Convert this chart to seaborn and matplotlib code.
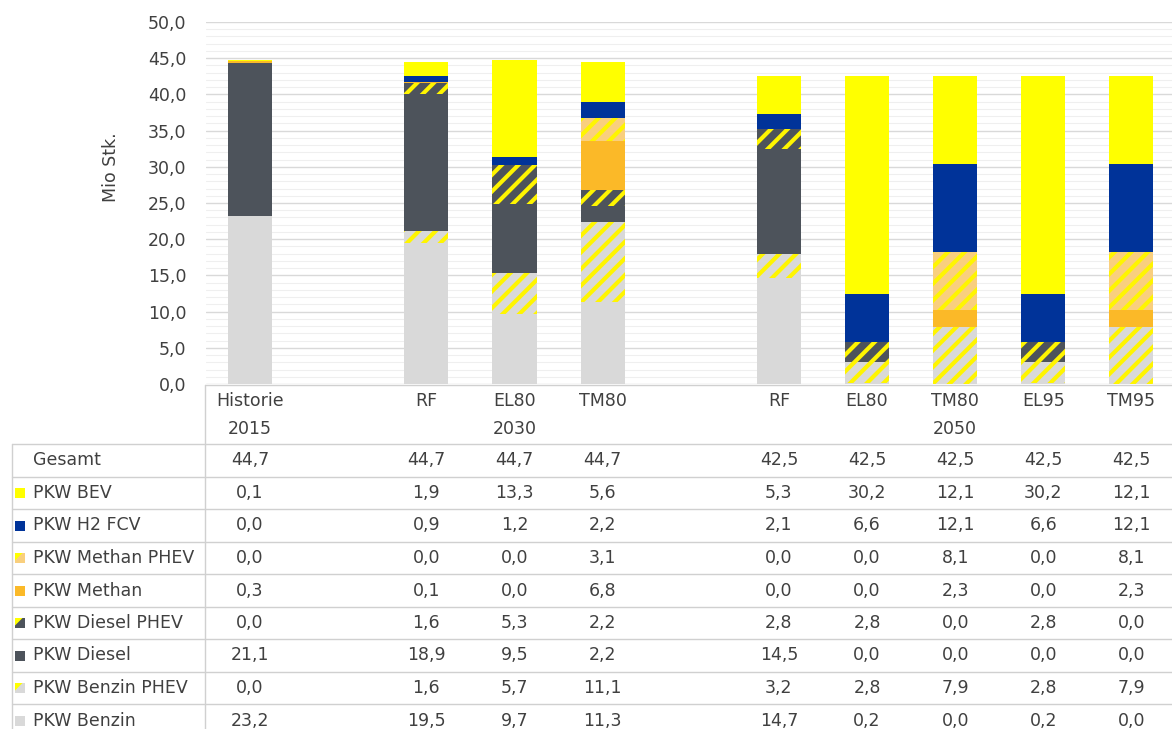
import numpy as np
import pandas as pd
import matplotlib
matplotlib.use("Agg")
import matplotlib.pyplot as plt
import seaborn as sns
from matplotlib.transforms import blended_transform_factory
from matplotlib.patches import Polygon, Rectangle
from matplotlib.lines import Line2D
from matplotlib.ticker import MultipleLocator, FuncFormatter

# ---- data -------------------------------------------------------------
scenarios = ["Historie", "RF", "EL80", "TM80", "RF", "EL80", "TM80", "EL95", "TM95"]
years = ["2015", "", "2030", "", "", "", "2050", "", ""]
# slot index of every scenario on the x axis (gaps separate the years)
slot_pos = [0, 2, 3, 4, 6, 7, 8, 9, 10]
n_slots = 11

gesamt = [44.7, 44.7, 44.7, 44.7, 42.5, 42.5, 42.5, 42.5, 42.5]
pkw_bev = [0.1, 1.9, 13.3, 5.6, 5.3, 30.2, 12.1, 30.2, 12.1]
pkw_h2_fcv = [0.0, 0.9, 1.2, 2.2, 2.1, 6.6, 12.1, 6.6, 12.1]
pkw_methan_phev = [0.0, 0.0, 0.0, 3.1, 0.0, 0.0, 8.1, 0.0, 8.1]
pkw_methan = [0.3, 0.1, 0.0, 6.8, 0.0, 0.0, 2.3, 0.0, 2.3]
pkw_diesel_phev = [0.0, 1.6, 5.3, 2.2, 2.8, 2.8, 0.0, 2.8, 0.0]
pkw_diesel = [21.1, 18.9, 9.5, 2.2, 14.5, 0.0, 0.0, 0.0, 0.0]
pkw_benzin_phev = [0.0, 1.6, 5.7, 11.1, 3.2, 2.8, 7.9, 2.8, 7.9]
pkw_benzin = [23.2, 19.5, 9.7, 11.3, 14.7, 0.2, 0.0, 0.2, 0.0]

series_names = ["PKW BEV", "PKW H2 FCV", "PKW Methan PHEV", "PKW Methan",
                "PKW Diesel PHEV", "PKW Diesel", "PKW Benzin PHEV", "PKW Benzin"]
series_values = [pkw_bev, pkw_h2_fcv, pkw_methan_phev, pkw_methan,
                 pkw_diesel_phev, pkw_diesel, pkw_benzin_phev, pkw_benzin]

# ---- styles -----------------------------------------------------------
YELLOW = "#FFFF00"
STRIPE = "#FFF500"
styles = {
    "PKW BEV":         dict(color=YELLOW, hatch=None),
    "PKW H2 FCV":      dict(color="#003399", hatch=None),
    "PKW Methan PHEV": dict(color="#F9CF7E", hatch="//"),
    "PKW Methan":      dict(color="#FBB928", hatch=None),
    "PKW Diesel PHEV": dict(color="#4D535B", hatch="//"),
    "PKW Diesel":      dict(color="#4D535B", hatch=None),
    "PKW Benzin PHEV": dict(color="#D9D9D9", hatch="//"),
    "PKW Benzin":      dict(color="#D9D9D9", hatch=None),
}

TEXT = "#404040"
W, H = 1172, 729

sns.set_theme(style="white")
plt.rcParams["font.family"] = ["DejaVu Sans"]
plt.rcParams["hatch.linewidth"] = 3.0

fig = plt.figure(figsize=(W / 100, H / 100), dpi=100)
ax = fig.add_axes([206 / W, 1 - 384 / H, 966 / W, 362 / H])

slot_keys = [f"s{i}" for i in range(n_slots)]
keys = [slot_keys[p] for p in slot_pos]

# cumulative tops, bottom series stacked first
bottom_up = list(zip(series_names, series_values))[::-1]
cum = np.zeros(len(scenarios))
rows = []
for name, vals in bottom_up:
    cum = cum + np.array(vals)
    for k, c in zip(keys, cum):
        rows.append(dict(slot=k, series=name, top=c))
df = pd.DataFrame(rows)

# draw from the top series down so each lower segment covers the rest
for name in series_names:
    st = styles[name]
    kw = dict(linewidth=0)
    if st["hatch"]:
        kw.update(hatch=st["hatch"], edgecolor=STRIPE)
    else:
        kw.update(edgecolor=st["color"])
    sns.barplot(data=df[df.series == name], x="slot", y="top", order=slot_keys,
                color=st["color"], saturation=1, width=0.5, errorbar=None,
                ax=ax, **kw)

ax.set_xlim(-0.5, 10.46)
ax.set_ylim(0, 50)
ax.yaxis.set_major_locator(MultipleLocator(5))
ax.yaxis.set_minor_locator(MultipleLocator(1))
ax.yaxis.set_major_formatter(FuncFormatter(lambda v, _: f"{v:.1f}".replace(".", ",")))
ax.grid(axis="y", which="major", color="#D9D9D9", linewidth=1.0)
ax.grid(axis="y", which="minor", color="#EFEFEF", linewidth=0.8)
ax.set_axisbelow(True)
for s in ax.spines.values():
    s.set_visible(False)
ax.tick_params(axis="y", which="both", length=0, pad=14, labelsize=12.5, labelcolor=TEXT)
ax.set_xticks([])
ax.set_xlabel("")
ax.set_ylabel("Mio Stk.", fontsize=12.5, color=TEXT)
ax.yaxis.set_label_coords(-0.089, 0.60)

# ---- data table below the bars ---------------------------------------
tr = blended_transform_factory(ax.transData, fig.transFigure)


def fy(py):
    return 1 - py / H


line_kw = dict(color="#D0D0D0", linewidth=1.0)
fig.add_artist(Line2D([205 / W, 1], [fy(385), fy(385)], **line_kw))
fig.add_artist(Line2D([205 / W, 205 / W], [fy(385), 0], **line_kw))
row_lines = [444, 477, 509, 542, 574, 607, 639, 672, 704]
for yl in row_lines:
    fig.add_artist(Line2D([12 / W, 1], [fy(yl), fy(yl)], **line_kw))
fig.add_artist(Line2D([12 / W, 12 / W], [fy(444), 0], **line_kw))

fs = 12.5
# category header
for p, sc, yr in zip(slot_pos, scenarios, years):
    ax.text(p, fy(401), sc, transform=tr, ha="center", va="center", fontsize=fs, color=TEXT)
    if yr:
        ax.text(p, fy(429), yr, transform=tr, ha="center", va="center", fontsize=fs, color=TEXT)

row_centers = [(a + b) / 2 for a, b in zip(row_lines, row_lines[1:] + [737])]


def fmt(v):
    return f"{v:.1f}".replace(".", ",")


table_rows = [("Gesamt", gesamt)] + list(zip(series_names, series_values))
for (label, vals), yc in zip(table_rows, row_centers):
    fig.text(33 / W, fy(yc), label, ha="left", va="center", fontsize=fs, color=TEXT)
    for p, v in zip(slot_pos, vals):
        ax.text(p, fy(yc), fmt(v), transform=tr, ha="center", va="center",
                fontsize=fs, color=TEXT)
    if label in styles:
        st = styles[label]
        x0, x1 = 15 / W, 25 / W
        y0, y1 = fy(yc + 5), fy(yc - 5)
        fig.add_artist(Rectangle((x0, y0), x1 - x0, y1 - y0, transform=fig.transFigure,
                                 facecolor=st["color"], edgecolor="none"))
        if st["hatch"]:
            # yellow upper-left corner marks the plug-in hybrid pattern
            fig.add_artist(Polygon([(x0, y1), (x0 + 0.75 * (x1 - x0), y1),
                                    (x0, y1 - 0.75 * (y1 - y0))],
                                   closed=True, transform=fig.transFigure,
                                   facecolor=YELLOW, edgecolor="none"))

fig.savefig("out.png", dpi=100)
